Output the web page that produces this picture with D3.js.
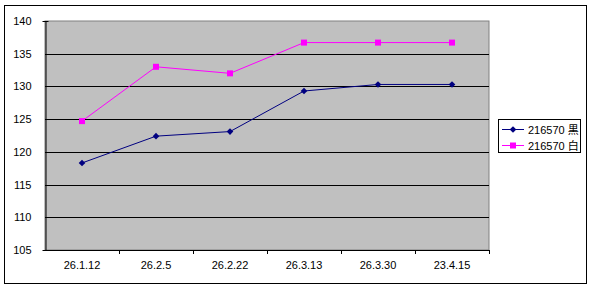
<!DOCTYPE html>
<html>
<head>
<meta charset="utf-8">
<script src="https://cdn.jsdelivr.net/npm/d3@7"></script>
<style>
body { margin: 0; background: #fff; }
text { font-family: "Liberation Sans", "Noto Sans CJK JP", sans-serif; }
</style>
</head>
<body>
<div id="chart"></div>
<script>
var W = 592, H = 288;

// data
var categories = ["26.1.12", "26.2.5", "26.2.22", "26.3.13", "26.3.30", "23.4.15"];
var blackVals = [118.3, 122.4, 123.1, 129.3, 130.3, 130.3];
var whiteVals = [124.7, 133.0, 132.0, 136.7, 136.7, 136.7];
var yTicks = [105, 110, 115, 120, 125, 130, 135, 140];
var seriesNames = ["216570 黒", "216570 白"];

var navy = "#000080";
var magenta = "#FF00FF";

var plot = {left: 45, top: 21, right: 489, bottom: 250};

var svg = d3.select("#chart").append("svg")
	.attr("width", W)
	.attr("height", H);

// outer frame
svg.append("rect")
	.attr("x", 4.5).attr("y", 5.5)
	.attr("width", 582).attr("height", 278)
	.attr("fill", "#fff")
	.attr("stroke", "#000");

var x = d3.scaleBand()
	.domain(categories)
	.range([plot.left, plot.right]);

var y = d3.scaleLinear()
	.domain([105, 140])
	.range([plot.bottom, plot.top]);

// plot area
svg.append("rect")
	.attr("x", plot.left).attr("y", plot.top)
	.attr("width", plot.right - plot.left).attr("height", plot.bottom - plot.top)
	.attr("fill", "#C0C0C0")
	.attr("stroke", "#808080");

// gridlines
svg.append("g")
	.selectAll("line")
	.data(yTicks.filter(d => d > 105 && d < 140))
	.join("line")
	.attr("x1", plot.left).attr("x2", plot.right)
	.attr("y1", d => Math.round(y(d)) + 0.5)
	.attr("y2", d => Math.round(y(d)) + 0.5)
	.attr("stroke", "#000");

// y axis
var yAxis = svg.append("g")
	.attr("transform", "translate(" + (plot.left + 0.5) + ",0)")
	.call(d3.axisLeft(y).tickValues(yTicks).tickSize(3).tickPadding(11).tickFormat(d3.format("d")));
yAxis.select(".domain").attr("stroke", "#000");
yAxis.selectAll(".tick line").attr("x2", 3).attr("stroke", "#000");
yAxis.selectAll("text").attr("font-size", 11).attr("fill", "#000");
yAxis.selectAll(".tick").attr("transform", d => "translate(0," + (Math.round(y(d)) + 0.5) + ")");

// x axis
var xAxis = svg.append("g")
	.attr("transform", "translate(0," + (plot.bottom + 0.5) + ")")
	.call(d3.axisBottom(x).tickSize(0).tickPadding(11));
xAxis.select(".domain").attr("stroke", "#000").attr("d", "M" + plot.left + ",0H" + plot.right);
xAxis.selectAll("text").attr("font-size", 11).attr("fill", "#000");

// category boundary ticks
svg.append("g")
	.selectAll("line")
	.data(categories)
	.join("line")
	.attr("x1", d => Math.round(x(d) + x.bandwidth()) + 0.5)
	.attr("x2", d => Math.round(x(d) + x.bandwidth()) + 0.5)
	.attr("y1", plot.bottom)
	.attr("y2", plot.bottom + 4)
	.attr("stroke", "#000");

var cx = d => x(d) + x.bandwidth() / 2;

var line = d3.line()
	.x((d, i) => cx(categories[i]))
	.y(d => y(d));

// series
svg.append("path")
	.datum(whiteVals)
	.attr("d", line)
	.attr("fill", "none")
	.attr("stroke", magenta)
	.attr("stroke-width", 1);

svg.append("path")
	.datum(blackVals)
	.attr("d", line)
	.attr("fill", "none")
	.attr("stroke", navy)
	.attr("stroke-width", 1);

var diamond = d3.symbol().type(d3.symbolDiamond2).size(28);

svg.append("g")
	.selectAll("path")
	.data(blackVals)
	.join("path")
	.attr("d", diamond)
	.attr("transform", (d, i) => "translate(" + cx(categories[i]) + "," + y(d) + ")")
	.attr("fill", navy);

svg.append("g")
	.selectAll("rect")
	.data(whiteVals)
	.join("rect")
	.attr("x", (d, i) => cx(categories[i]) - 3)
	.attr("y", d => y(d) - 3)
	.attr("width", 6).attr("height", 6)
	.attr("fill", magenta);

// legend
var legend = svg.append("g");
legend.append("rect")
	.attr("x", 498.5).attr("y", 119.5)
	.attr("width", 82).attr("height", 33)
	.attr("fill", "#fff")
	.attr("stroke", "#000");

var colors = [navy, magenta];
seriesNames.forEach(function(name, i) {
	var ly = 129 + i * 16;
	legend.append("line")
		.attr("x1", 502).attr("x2", 524)
		.attr("y1", ly + 0.5).attr("y2", ly + 0.5)
		.attr("stroke", colors[i]);
	if (i == 0) {
		legend.append("path")
			.attr("d", diamond)
			.attr("transform", "translate(513," + (ly + 0.5) + ")")
			.attr("fill", navy);
	} else {
		legend.append("rect")
			.attr("x", 510).attr("y", ly - 2.5)
			.attr("width", 6).attr("height", 6)
			.attr("fill", magenta);
	}
	legend.append("text")
		.attr("x", 528).attr("y", ly + 4.5)
		.attr("font-size", 11)
		.text(name);
});
</script>
</body>
</html>
